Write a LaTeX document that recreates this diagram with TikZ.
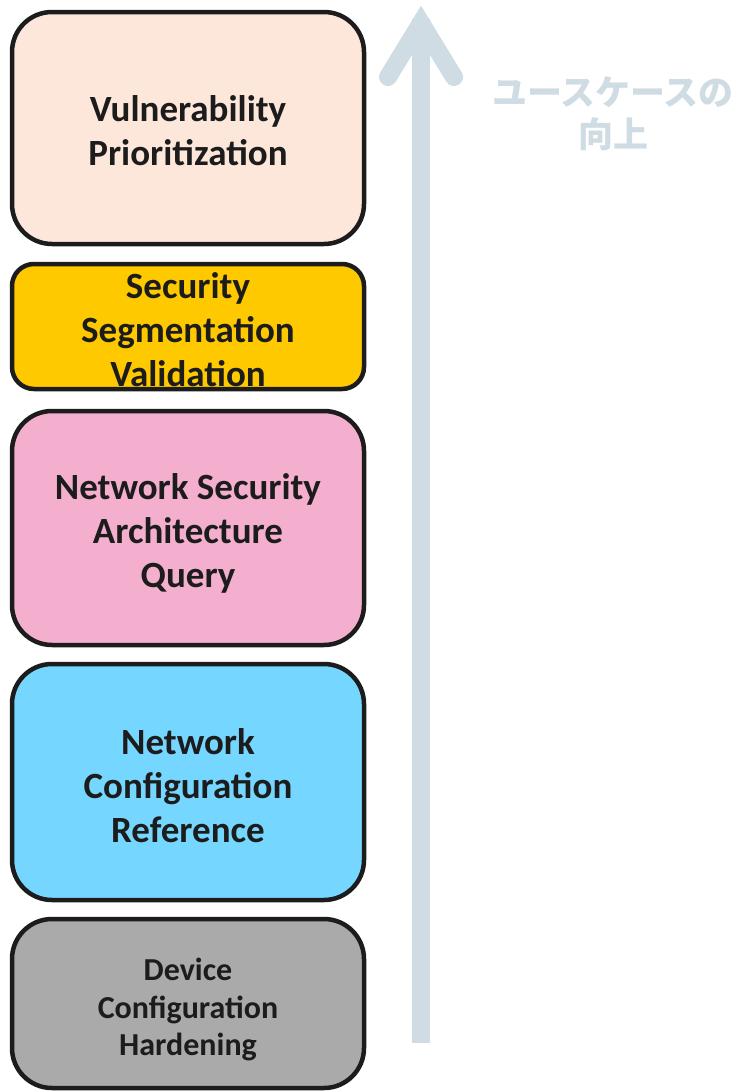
\documentclass[tikz,border=0pt]{standalone}
\usepackage{fontspec}
\setmainfont{Carlito}
\newfontfamily\jpfont{Noto Sans CJK JP}
\definecolor{edge}{HTML}{1C1C1C}
\definecolor{peach}{HTML}{FCE7DA}
\definecolor{amber}{HTML}{FFC900}
\definecolor{rose}{HTML}{F4AECE}
\definecolor{sky}{HTML}{75D6FF}
\definecolor{stone}{HTML}{AAAAAA}
\definecolor{mist}{HTML}{CFDCE4}
\begin{document}
\begin{tikzpicture}[x=1pt,y=-1pt,
  layer/.style={draw=edge,line width=4.5pt,rounded corners=40pt,
    minimum width=352pt,inner sep=0pt,outer sep=0pt},
  caption/.style={align=center,text=edge,font=\bfseries\fontsize{37}{44}\selectfont},
  smallcaption/.style={align=center,text=edge,font=\bfseries\fontsize{32}{37.5}\selectfont}]
\useasboundingbox (0,0) rectangle (741,1092);

% stacked layers, bottom to top
\node[layer,fill=peach,minimum height=232pt] (vp) at (188,128) {};
\node[layer,fill=amber,minimum height=125pt,rounded corners=22pt] (ssv) at (188,326.5) {};
\node[layer,fill=rose,minimum height=234pt] (nsa) at (188,528) {};
\node[layer,fill=sky,minimum height=236pt] (ncr) at (188,782) {};
\node[layer,fill=stone,minimum height=169pt] (dch) at (188,1003.5) {};

\node[caption] (vpt) at ([yshift=-3pt]vp.center) {Vulnerability\\Prioritization};
\node[caption] (ssvt) at ([yshift=-3pt]ssv.center) {Security\\Segmentation\\Validation};
\node[caption] (nsat) at ([yshift=-5pt]nsa.center) {Network Security\\Architecture\\Query};
\node[caption] (ncrt) at ([yshift=-4pt]ncr.center) {Network\\Configuration\\Reference};
\node[smallcaption] (dcht) at ([yshift=-6pt]dch.center) {Device\\Configuration\\Hardening};

% upward arrow
\coordinate (abase) at (421,1043);
\coordinate (atip) at (421,23);
\coordinate (aleft) at (388,77);
\coordinate (aright) at (454,77);
\draw[mist,line width=18pt] (abase) -- ([yshift=4pt]atip);
\draw[mist,line width=18pt,line cap=round,line join=miter] (aleft) -- (atip) -- (aright);

\node[align=center,text=mist,font=\jpfont\bfseries\fontsize{35}{42}\selectfont] (gain) at (613,114) {ユースケースの\\向上};
\end{tikzpicture}
\end{document}
